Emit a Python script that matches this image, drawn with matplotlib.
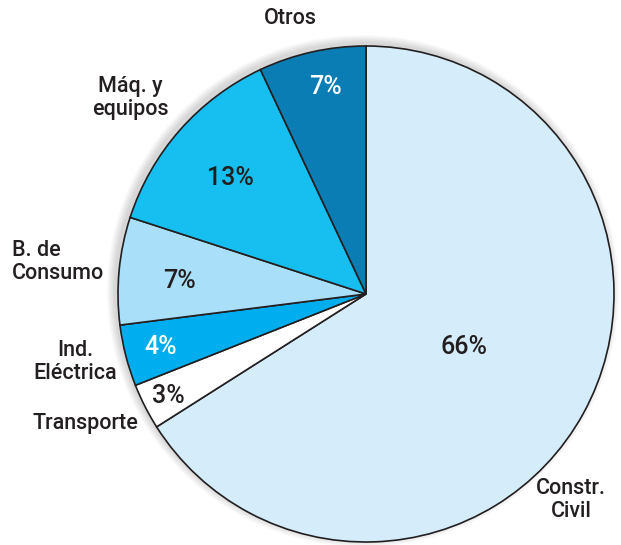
import matplotlib.pyplot as plt
from matplotlib.patches import Circle

# data (clockwise from 12 o'clock)
sectores = ['Constr. Civil', 'Transporte', 'Ind. Eléctrica', 'B. de Consumo', 'Máq. y equipos', 'Otros']
valores = [66, 3, 4, 7, 13, 7]
colores = ['#d5edfb', '#ffffff', '#00adee', '#a9dff8', '#17bff0', '#0a7db5']
color_pct = ['#231f20', '#231f20', '#ffffff', '#231f20', '#231f20', '#ffffff']
etiquetas = ['Constr.\nCivil', 'Transporte', 'Ind.\nEléctrica', 'B. de\nConsumo', 'Máq. y\nequipos', 'Otros']

plt.rcParams['font.family'] = ['Roboto', 'DejaVu Sans']

fig = plt.figure(figsize=(6.21, 5.45), dpi=100)
ax = fig.add_axes([0, 0, 1, 1])

cx, cy, r = 366, 545 - 294, 248

# soft shadow
for k in range(8):
    ax.add_patch(Circle((cx - 3, cy + 3), r + 8 - k, color='black', alpha=0.018, lw=0, zorder=0))

wedges, _ = ax.pie(valores, colors=colores, startangle=90, counterclock=False,
                   center=(cx, cy), radius=r,
                   wedgeprops=dict(edgecolor='#231f20', linewidth=1.2), frame=True)
ax.set_xlim(0, 621)
ax.set_ylim(0, 545)
ax.axis('off')

# percentage positions (pixels from top-left)
pos_pct = [(464, 347), (168, 396), (161, 347), (179, 281), (230, 178), (325, 87)]
for v, (x, y), c in zip(valores, pos_pct, color_pct):
    ax.text(x, 545 - y, f'{v}%', ha='center', va='center', fontsize=18,
            fontweight='medium', color=c)

pos_lab = [(571, 500, 'center'), (85, 424, 'center'), (75, 362, 'center'),
           (12, 262, 'left'), (130, 98, 'center'), (290, 18, 'center')]
for t, (x, y, ha) in zip(etiquetas, pos_lab):
    ax.text(x, 545 - y, t, ha=ha, va='center', fontsize=15.5, fontweight='medium',
            color='#231f20', multialignment='center' if ha == 'center' else 'left',
            linespacing=1.1)

fig.savefig('out.png', dpi=100)
